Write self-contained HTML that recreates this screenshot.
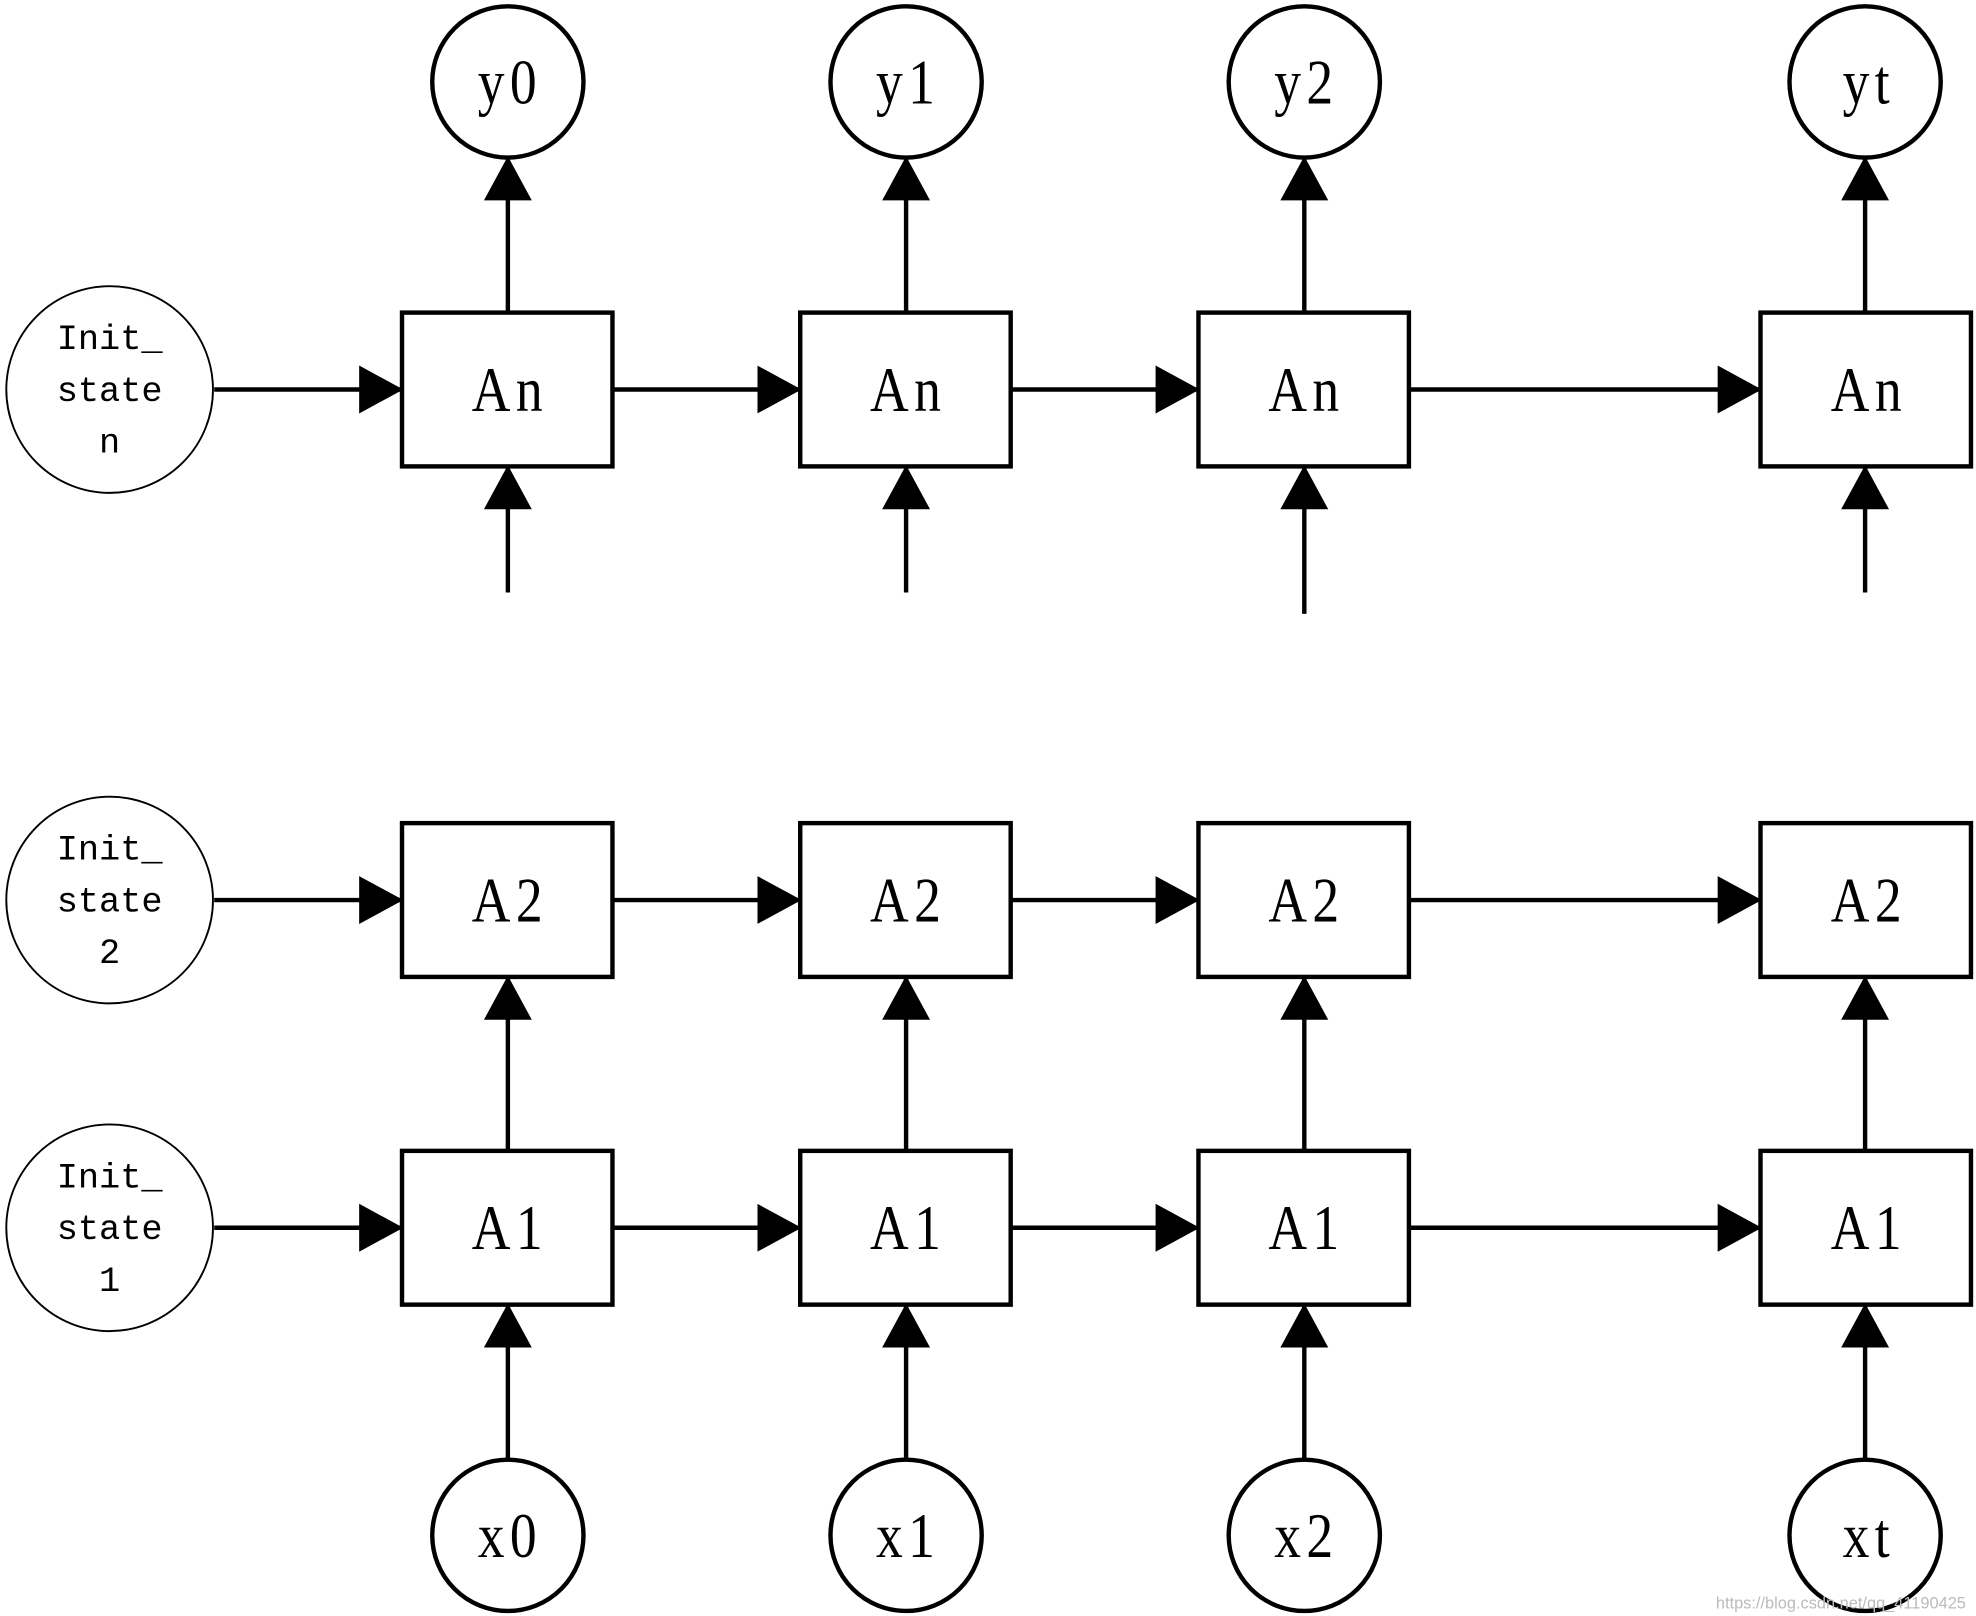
<!DOCTYPE html>
<html><head><meta charset="utf-8"><style>
html,body{margin:0;padding:0;background:#fff;}
svg{display:block;}
</style></head><body>
<svg width="1976" height="1616" viewBox="0 0 1568 1282" preserveAspectRatio="none" xmlns="http://www.w3.org/2000/svg">
<defs>
<marker id="ah" markerWidth="36" markerHeight="40" refX="34" refY="20" orient="auto" markerUnits="userSpaceOnUse">
<path d="M0,1 L35,20 L0,39 Z" fill="#000"/>
</marker>
</defs>
<g stroke="#000" stroke-width="3.5" fill="none">
<rect x="319" y="248" width="167" height="122"/><rect x="635" y="248" width="167" height="122"/><rect x="951" y="248" width="167" height="122"/><rect x="1397" y="248" width="167" height="122"/>
<rect x="319" y="653" width="167" height="122"/><rect x="635" y="653" width="167" height="122"/><rect x="951" y="653" width="167" height="122"/><rect x="1397" y="653" width="167" height="122"/>
<rect x="319" y="913" width="167" height="122"/><rect x="635" y="913" width="167" height="122"/><rect x="951" y="913" width="167" height="122"/><rect x="1397" y="913" width="167" height="122"/>
<circle cx="403" cy="65" r="60"/><circle cx="719" cy="65" r="60"/><circle cx="1035" cy="65" r="60"/><circle cx="1480" cy="65" r="60"/>
<circle cx="403" cy="1218" r="60"/><circle cx="719" cy="1218" r="60"/><circle cx="1035" cy="1218" r="60"/><circle cx="1480" cy="1218" r="60"/>
</g>
<g stroke="#000" stroke-width="1.5" fill="none">
<circle cx="87" cy="309" r="82"/><circle cx="87" cy="714" r="82"/><circle cx="87" cy="974" r="82"/>
</g>
<g stroke="#000" stroke-width="3.5" marker-end="url(#ah)">
<line x1="170" y1="309" x2="319" y2="309"/><line x1="486" y1="309" x2="635" y2="309"/><line x1="802" y1="309" x2="951" y2="309"/><line x1="1118" y1="309" x2="1397" y2="309"/>
<line x1="170" y1="714" x2="319" y2="714"/><line x1="486" y1="714" x2="635" y2="714"/><line x1="802" y1="714" x2="951" y2="714"/><line x1="1118" y1="714" x2="1397" y2="714"/>
<line x1="170" y1="974" x2="319" y2="974"/><line x1="486" y1="974" x2="635" y2="974"/><line x1="802" y1="974" x2="951" y2="974"/><line x1="1118" y1="974" x2="1397" y2="974"/>
<line x1="403" y1="248" x2="403" y2="125"/><line x1="719" y1="248" x2="719" y2="125"/><line x1="1035" y1="248" x2="1035" y2="125"/><line x1="1480" y1="248" x2="1480" y2="125"/>
<line x1="403" y1="470" x2="403" y2="370"/><line x1="719" y1="470" x2="719" y2="370"/><line x1="1035" y1="487" x2="1035" y2="370"/><line x1="1480" y1="470" x2="1480" y2="370"/>
<line x1="403" y1="913" x2="403" y2="775"/><line x1="719" y1="913" x2="719" y2="775"/><line x1="1035" y1="913" x2="1035" y2="775"/><line x1="1480" y1="913" x2="1480" y2="775"/>
<line x1="403" y1="1158" x2="403" y2="1035"/><line x1="719" y1="1158" x2="719" y2="1035"/><line x1="1035" y1="1158" x2="1035" y2="1035"/><line x1="1480" y1="1158" x2="1480" y2="1035"/>
</g>
<g font-family="Liberation Serif, serif" font-size="50" text-anchor="middle" fill="#000" letter-spacing="5">
<g transform="scale(0.85,1)">
<text x="476" y="326">An</text><text x="847.8" y="326">An</text><text x="1219.6" y="326">An</text><text x="1744.7" y="326">An</text>
<text x="476" y="731">A2</text><text x="847.8" y="731">A2</text><text x="1219.6" y="731">A2</text><text x="1744.7" y="731">A2</text>
<text x="476" y="991">A1</text><text x="847.8" y="991">A1</text><text x="1219.6" y="991">A1</text><text x="1744.7" y="991">A1</text>
<text x="476" y="82">y0</text><text x="847.8" y="82">y1</text><text x="1219.6" y="82">y2</text><text x="1744.7" y="82">yt</text>
<text x="476" y="1235">x0</text><text x="847.8" y="1235">x1</text><text x="1219.6" y="1235">x2</text><text x="1744.7" y="1235">xt</text>
</g>
</g>
<g font-family="Liberation Mono, monospace" font-size="28" text-anchor="middle" fill="#000">
<text x="87" y="277">Init_</text><text x="87" y="318">state</text><text x="87" y="359">n</text>
<text x="87" y="682">Init_</text><text x="87" y="723">state</text><text x="87" y="764">2</text>
<text x="87" y="942">Init_</text><text x="87" y="983">state</text><text x="87" y="1024">1</text>
</g>
<text x="1560" y="1276" font-family="Liberation Sans, sans-serif" font-size="13" text-anchor="end" fill="#bbb">https://blog.csdn.net/qq_41190425</text>
</svg>
</body></html>
